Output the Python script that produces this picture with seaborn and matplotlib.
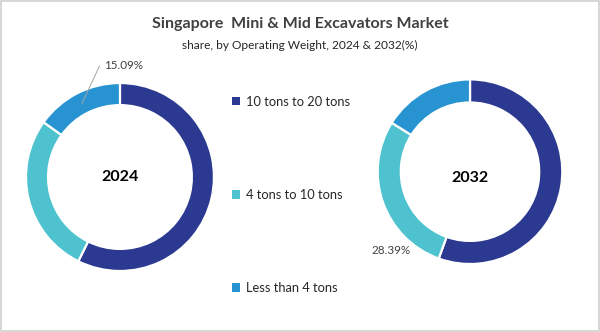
import matplotlib
matplotlib.use("Agg")
import matplotlib.pyplot as plt
from matplotlib.patches import Rectangle
import numpy as np
import seaborn as sns

# ---- data ----
categories = ["10 tons to 20 tons", "4 tons to 10 tons", "Less than 4 tons"]
share_2024 = [57.31, 27.60, 15.09]
share_2032 = [55.50, 28.39, 16.11]
years = ["2024", "2032"]
title = "Singapore  Mini & Mid Excavators Market"
subtitle = "share, by Operating Weight, 2024 & 2032(%)"
colors = ["#2B3990", "#4EC3CF", "#2793D1"]

sns.set_theme(style="white")
plt.rcParams["font.family"] = ["Lato", "DejaVu Sans"]

fig = plt.figure(figsize=(6.0, 3.32), dpi=100)
fig.patch.set_facecolor("white")
fig.add_artist(Rectangle((0.001, 0.002), 0.997, 0.995, transform=fig.transFigure,
                         fill=False, edgecolor="#D0D0D0", lw=1.2))

fig.text(0.5, 0.928, title, ha="center", va="center", fontsize=11.5,
         fontweight="bold", color="#404040")
fig.text(0.5, 0.862, subtitle, ha="center", va="center", fontsize=8.6,
         color="#262626")

ax1 = fig.add_axes([0.0433, 0.1837, 0.3133, 0.5663])
ax2 = fig.add_axes([0.6295, 0.2048, 0.3077, 0.5560])

def donut(ax, vals, width):
    wedges, _ = ax.pie(vals, colors=colors, startangle=90, counterclock=False,
                       radius=1.0, wedgeprops=dict(width=width, edgecolor="white",
                                                   linewidth=1.6))
    ax.set_xlim(-1, 1)
    ax.set_ylim(-1, 1)
    ax.set_aspect("equal")
    ax.axis("off")
    return wedges

w1 = donut(ax1, share_2024, 0.235)
w2 = donut(ax2, share_2032, 0.25)

ax1.text(0, 0.0, years[0], ha="center", va="center", fontsize=11.5,
         fontweight="bold", color="black")
ax2.text(0, -0.07, years[1], ha="center", va="center", fontsize=11.5,
         fontweight="bold", color="black")

# 15.09% label with leader line to the "Less than 4 tons" wedge of 2024
wd = w1[2]
mid = np.deg2rad((wd.theta1 + wd.theta2) / 2)
r_in = 1 - 0.235 / 2
pt = (r_in * np.cos(mid), r_in * np.sin(mid))
ax1.annotate(f"{share_2024[2]:.2f}%", xy=pt, xytext=(-0.17, 1.19),
             ha="left", va="center", fontsize=8.4, color="#404040",
             annotation_clip=False,
             arrowprops=dict(arrowstyle="-", color="#A6A6A6", lw=0.7,
                             shrinkA=1, shrinkB=0, relpos=(0, 0.5),
                             connectionstyle="angle,angleA=0,angleB=65,rad=0"))

# 28.39% label for 2032
ax2.text(-0.86, -0.85, f"{share_2032[1]:.2f}%", ha="center", va="center",
         fontsize=8.4, color="#404040", clip_on=False)

leg = fig.legend(w1, categories, loc="upper left", bbox_to_anchor=(0.378, 0.727),
                 frameon=False, fontsize=9.3, labelcolor="#262626",
                 handlelength=0.62, handleheight=0.62, handletextpad=0.45,
                 labelspacing=6.28, borderaxespad=0)
for h in leg.legend_handles:
    h.set_edgecolor("none")

fig.savefig("out.png", dpi=100)
